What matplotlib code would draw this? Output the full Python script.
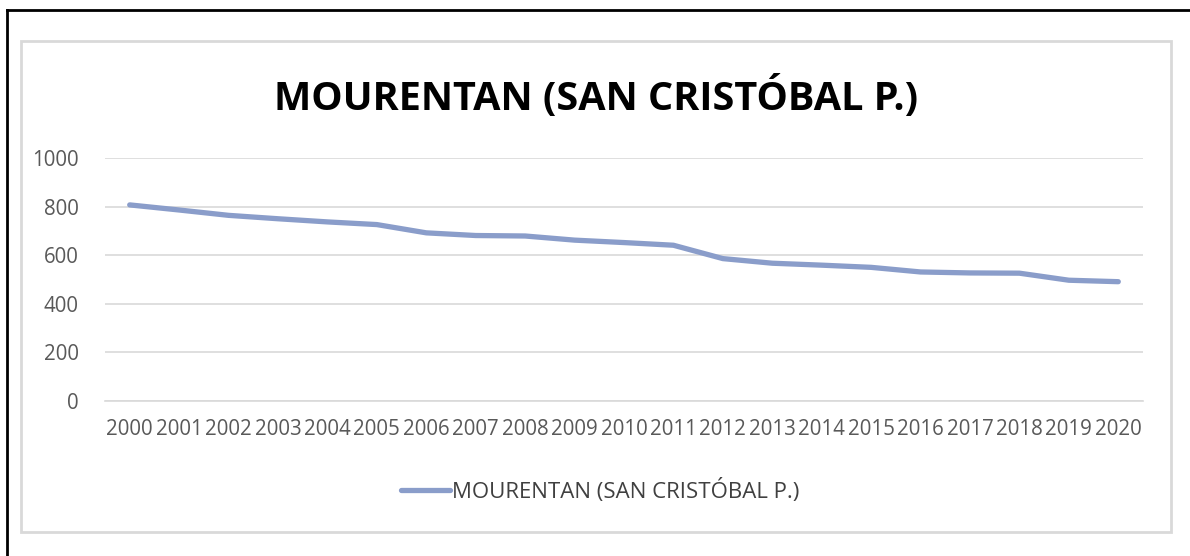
from matplotlib import use; use("Agg")
import matplotlib.pyplot as plt
from matplotlib.lines import Line2D
from matplotlib.patches import Rectangle

# data
years = [str(y) for y in range(2000, 2021)]
population = [807, 786, 764, 750, 737, 726, 692, 681, 679, 662, 652,
              641, 586, 567, 559, 550, 531, 527, 526, 497, 491]
series_name = "MOURENTAN (SAN CRISTÓBAL P.)"
yticks = [0, 200, 400, 600, 800, 1000]

W, H = 1190, 556
plt.rcParams['font.family'] = ['Open Sans', 'DejaVu Sans']
fig = plt.figure(figsize=(W / 100, H / 100), dpi=100)
fig.patch.set_facecolor("white")

def fx(px): return px / W
def fy(py): return 1 - py / H

# outer black frame (top and left edges visible)
fig.add_artist(Line2D([fx(7), 1], [fy(10), fy(10)], color="black", lw=2))
fig.add_artist(Line2D([fx(7), fx(7)], [fy(10), 0], color="black", lw=2))
# light grey chart border
fig.add_artist(Rectangle((fx(21), fy(532)), fx(1171) - fx(21), fy(41) - fy(532),
                         fill=False, edgecolor="#d9d9d9", lw=2))

ax = fig.add_axes([fx(105), fy(401), fx(1143) - fx(105), fy(158) - fy(401)])
x = list(range(len(years)))
ax.plot(x, population, color="#8a9dca", lw=3.8, solid_capstyle="round",
        label=series_name)
ax.set_xlim(-0.5, len(years) - 0.5)
ax.set_ylim(0, 1000)
ax.set_yticks(yticks)
ax.set_xticks(x)
ax.set_xticklabels(years)
ax.grid(axis="y", color="#d9d9d9", lw=1.2)
ax.set_axisbelow(True)
for s in ["top", "right", "left"]:
    ax.spines[s].set_visible(False)
ax.spines["bottom"].set_color("#d9d9d9")
ax.spines["bottom"].set_linewidth(1.2)
ax.tick_params(length=0, labelsize=14.8, labelcolor="#595959")
ax.tick_params(axis="x", pad=13)
ax.tick_params(axis="y", pad=19)

fig.text(fx(596), fy(98), series_name, ha="center", va="center",
         fontsize=28.5, fontweight="bold", color="black")

leg = fig.legend(loc="center", bbox_to_anchor=(fx(600), fy(491)), frameon=False,
                 fontsize=16, handlelength=2.2, handletextpad=0.1)
for t in leg.get_texts():
    t.set_color("#404040")

fig.savefig("out.png", dpi=100)
